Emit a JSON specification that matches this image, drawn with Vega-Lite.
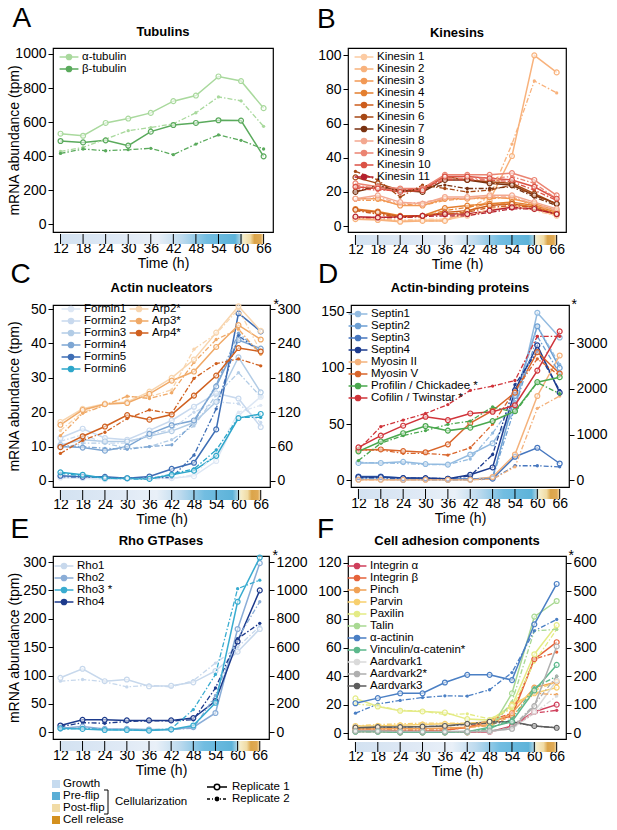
{
  "$schema": "https://vega.github.io/schema/vega-lite/v6.json",
  "background": "white",
  "padding": {"left": 6, "top": 5, "right": 2, "bottom": 0},
  "config": {
    "font": "Liberation Sans",
    "view": {"stroke": "black", "strokeWidth": 1.2},
    "axis": {"grid": false, "domain": false, "tickColor": "black", "tickSize": 5, "tickWidth": 1, "labelColor": "black", "labelFontSize": 14, "labelPadding": 2, "titleColor": "black", "titleFontSize": 14, "titleFontWeight": "normal"},
    "legend": {"orient": "none", "padding": 0, "symbolSize": 110, "symbolStrokeWidth": 1.5, "labelFontSize": 11.5, "labelColor": "black", "labelOffset": 7, "rowPadding": -1, "labelLimit": 300},
    "title": {"color": "black"}
  },
  "datasets": {
    "band": [{"a": 12, "b": 66}],
    "ticks": [{"t": 12}, {"t": 18}, {"t": 24}, {"t": 30}, {"t": 36}, {"t": 42}, {"t": 48}, {"t": 54}, {"t": 60}, {"t": 66}],
    "stages": [{"s": "Growth"}, {"s": "Pre-flip"}, {"s": "Post-flip"}, {"s": "Cell release"}],
    "reps": [{"rep": "Replicate 1"}, {"rep": "Replicate 2"}],
    "bracket": [{"label": "Cellularization"}],
    "A": [
      {"g":"α-tubulin","r":1,"t":12,"v":532},{"g":"α-tubulin","r":1,"t":18,"v":520},{"g":"α-tubulin","r":1,"t":24,"v":595},{"g":"α-tubulin","r":1,"t":30,"v":621},{"g":"α-tubulin","r":1,"t":36,"v":654},{"g":"α-tubulin","r":1,"t":42,"v":723},{"g":"α-tubulin","r":1,"t":48,"v":756},{"g":"α-tubulin","r":1,"t":54,"v":868},{"g":"α-tubulin","r":1,"t":60,"v":841},{"g":"α-tubulin","r":1,"t":66,"v":682},
      {"g":"α-tubulin","r":2,"t":12,"v":428},{"g":"α-tubulin","r":2,"t":18,"v":452},{"g":"α-tubulin","r":2,"t":24,"v":500},{"g":"α-tubulin","r":2,"t":30,"v":550},{"g":"α-tubulin","r":2,"t":36,"v":568},{"g":"α-tubulin","r":2,"t":42,"v":590},{"g":"α-tubulin","r":2,"t":48,"v":655},{"g":"α-tubulin","r":2,"t":54,"v":748},{"g":"α-tubulin","r":2,"t":60,"v":725},{"g":"α-tubulin","r":2,"t":66,"v":575},
      {"g":"β-tubulin","r":1,"t":12,"v":489},{"g":"β-tubulin","r":1,"t":18,"v":481},{"g":"β-tubulin","r":1,"t":24,"v":493},{"g":"β-tubulin","r":1,"t":30,"v":462},{"g":"β-tubulin","r":1,"t":36,"v":544},{"g":"β-tubulin","r":1,"t":42,"v":583},{"g":"β-tubulin","r":1,"t":48,"v":595},{"g":"β-tubulin","r":1,"t":54,"v":611},{"g":"β-tubulin","r":1,"t":60,"v":609},{"g":"β-tubulin","r":1,"t":66,"v":399},
      {"g":"β-tubulin","r":2,"t":12,"v":416},{"g":"β-tubulin","r":2,"t":18,"v":442},{"g":"β-tubulin","r":2,"t":24,"v":432},{"g":"β-tubulin","r":2,"t":30,"v":438},{"g":"β-tubulin","r":2,"t":36,"v":446},{"g":"β-tubulin","r":2,"t":42,"v":409},{"g":"β-tubulin","r":2,"t":48,"v":471},{"g":"β-tubulin","r":2,"t":54,"v":525},{"g":"β-tubulin","r":2,"t":60,"v":493},{"g":"β-tubulin","r":2,"t":66,"v":442}
    ],
    "B": [
      {"g":"Kinesin 1","r":1,"t":12,"v":5},{"g":"Kinesin 1","r":1,"t":18,"v":4},{"g":"Kinesin 1","r":1,"t":24,"v":3},{"g":"Kinesin 1","r":1,"t":30,"v":3.5},{"g":"Kinesin 1","r":1,"t":36,"v":3.5},{"g":"Kinesin 1","r":1,"t":42,"v":6},{"g":"Kinesin 1","r":1,"t":48,"v":9},{"g":"Kinesin 1","r":1,"t":54,"v":12},{"g":"Kinesin 1","r":1,"t":60,"v":10},{"g":"Kinesin 1","r":1,"t":66,"v":6},
      {"g":"Kinesin 1","r":2,"t":12,"v":5},{"g":"Kinesin 1","r":2,"t":18,"v":5},{"g":"Kinesin 1","r":2,"t":24,"v":3.5},{"g":"Kinesin 1","r":2,"t":30,"v":4},{"g":"Kinesin 1","r":2,"t":36,"v":4},{"g":"Kinesin 1","r":2,"t":42,"v":6},{"g":"Kinesin 1","r":2,"t":48,"v":10},{"g":"Kinesin 1","r":2,"t":54,"v":12},{"g":"Kinesin 1","r":2,"t":60,"v":9},{"g":"Kinesin 1","r":2,"t":66,"v":6},
      {"g":"Kinesin 2","r":1,"t":12,"v":4},{"g":"Kinesin 2","r":1,"t":18,"v":3.5},{"g":"Kinesin 2","r":1,"t":24,"v":2.5},{"g":"Kinesin 2","r":1,"t":30,"v":3},{"g":"Kinesin 2","r":1,"t":36,"v":3},{"g":"Kinesin 2","r":1,"t":42,"v":8},{"g":"Kinesin 2","r":1,"t":48,"v":15},{"g":"Kinesin 2","r":1,"t":54,"v":41},{"g":"Kinesin 2","r":1,"t":60,"v":100},{"g":"Kinesin 2","r":1,"t":66,"v":90},
      {"g":"Kinesin 2","r":2,"t":12,"v":4},{"g":"Kinesin 2","r":2,"t":18,"v":4},{"g":"Kinesin 2","r":2,"t":24,"v":3},{"g":"Kinesin 2","r":2,"t":30,"v":3},{"g":"Kinesin 2","r":2,"t":36,"v":3},{"g":"Kinesin 2","r":2,"t":42,"v":10},{"g":"Kinesin 2","r":2,"t":48,"v":17},{"g":"Kinesin 2","r":2,"t":54,"v":48},{"g":"Kinesin 2","r":2,"t":60,"v":85},{"g":"Kinesin 2","r":2,"t":66,"v":78},
      {"g":"Kinesin 3","r":1,"t":12,"v":16},{"g":"Kinesin 3","r":1,"t":18,"v":16},{"g":"Kinesin 3","r":1,"t":24,"v":12},{"g":"Kinesin 3","r":1,"t":30,"v":12},{"g":"Kinesin 3","r":1,"t":36,"v":16},{"g":"Kinesin 3","r":1,"t":42,"v":16},{"g":"Kinesin 3","r":1,"t":48,"v":17},{"g":"Kinesin 3","r":1,"t":54,"v":16},{"g":"Kinesin 3","r":1,"t":60,"v":13},{"g":"Kinesin 3","r":1,"t":66,"v":9},
      {"g":"Kinesin 3","r":2,"t":12,"v":15},{"g":"Kinesin 3","r":2,"t":18,"v":15},{"g":"Kinesin 3","r":2,"t":24,"v":13},{"g":"Kinesin 3","r":2,"t":30,"v":12},{"g":"Kinesin 3","r":2,"t":36,"v":15},{"g":"Kinesin 3","r":2,"t":42,"v":16},{"g":"Kinesin 3","r":2,"t":48,"v":16},{"g":"Kinesin 3","r":2,"t":54,"v":17},{"g":"Kinesin 3","r":2,"t":60,"v":12},{"g":"Kinesin 3","r":2,"t":66,"v":8},
      {"g":"Kinesin 4","r":1,"t":12,"v":10},{"g":"Kinesin 4","r":1,"t":18,"v":8.5},{"g":"Kinesin 4","r":1,"t":24,"v":6},{"g":"Kinesin 4","r":1,"t":30,"v":6},{"g":"Kinesin 4","r":1,"t":36,"v":10.5},{"g":"Kinesin 4","r":1,"t":42,"v":12},{"g":"Kinesin 4","r":1,"t":48,"v":13},{"g":"Kinesin 4","r":1,"t":54,"v":14},{"g":"Kinesin 4","r":1,"t":60,"v":12},{"g":"Kinesin 4","r":1,"t":66,"v":8},
      {"g":"Kinesin 4","r":2,"t":12,"v":10},{"g":"Kinesin 4","r":2,"t":18,"v":7},{"g":"Kinesin 4","r":2,"t":24,"v":5},{"g":"Kinesin 4","r":2,"t":30,"v":5.5},{"g":"Kinesin 4","r":2,"t":36,"v":9},{"g":"Kinesin 4","r":2,"t":42,"v":11},{"g":"Kinesin 4","r":2,"t":48,"v":13},{"g":"Kinesin 4","r":2,"t":54,"v":13},{"g":"Kinesin 4","r":2,"t":60,"v":11},{"g":"Kinesin 4","r":2,"t":66,"v":7},
      {"g":"Kinesin 5","r":1,"t":12,"v":9.5},{"g":"Kinesin 5","r":1,"t":18,"v":8},{"g":"Kinesin 5","r":1,"t":24,"v":5.5},{"g":"Kinesin 5","r":1,"t":30,"v":6},{"g":"Kinesin 5","r":1,"t":36,"v":8},{"g":"Kinesin 5","r":1,"t":42,"v":9},{"g":"Kinesin 5","r":1,"t":48,"v":12},{"g":"Kinesin 5","r":1,"t":54,"v":13},{"g":"Kinesin 5","r":1,"t":60,"v":11},{"g":"Kinesin 5","r":1,"t":66,"v":7},
      {"g":"Kinesin 5","r":2,"t":12,"v":9},{"g":"Kinesin 5","r":2,"t":18,"v":7},{"g":"Kinesin 5","r":2,"t":24,"v":5},{"g":"Kinesin 5","r":2,"t":30,"v":6},{"g":"Kinesin 5","r":2,"t":36,"v":7},{"g":"Kinesin 5","r":2,"t":42,"v":8},{"g":"Kinesin 5","r":2,"t":48,"v":11},{"g":"Kinesin 5","r":2,"t":54,"v":12},{"g":"Kinesin 5","r":2,"t":60,"v":11},{"g":"Kinesin 5","r":2,"t":66,"v":7},
      {"g":"Kinesin 6","r":1,"t":12,"v":28.5},{"g":"Kinesin 6","r":1,"t":18,"v":25},{"g":"Kinesin 6","r":1,"t":24,"v":21},{"g":"Kinesin 6","r":1,"t":30,"v":21},{"g":"Kinesin 6","r":1,"t":36,"v":29},{"g":"Kinesin 6","r":1,"t":42,"v":27},{"g":"Kinesin 6","r":1,"t":48,"v":26},{"g":"Kinesin 6","r":1,"t":54,"v":25},{"g":"Kinesin 6","r":1,"t":60,"v":19},{"g":"Kinesin 6","r":1,"t":66,"v":13},
      {"g":"Kinesin 6","r":2,"t":12,"v":32},{"g":"Kinesin 6","r":2,"t":18,"v":27},{"g":"Kinesin 6","r":2,"t":24,"v":17},{"g":"Kinesin 6","r":2,"t":30,"v":24},{"g":"Kinesin 6","r":2,"t":36,"v":22},{"g":"Kinesin 6","r":2,"t":42,"v":20},{"g":"Kinesin 6","r":2,"t":48,"v":21},{"g":"Kinesin 6","r":2,"t":54,"v":24},{"g":"Kinesin 6","r":2,"t":60,"v":18},{"g":"Kinesin 6","r":2,"t":66,"v":13},
      {"g":"Kinesin 7","r":1,"t":12,"v":20},{"g":"Kinesin 7","r":1,"t":18,"v":23},{"g":"Kinesin 7","r":1,"t":24,"v":21},{"g":"Kinesin 7","r":1,"t":30,"v":20},{"g":"Kinesin 7","r":1,"t":36,"v":27},{"g":"Kinesin 7","r":1,"t":42,"v":27},{"g":"Kinesin 7","r":1,"t":48,"v":25},{"g":"Kinesin 7","r":1,"t":54,"v":24},{"g":"Kinesin 7","r":1,"t":60,"v":18},{"g":"Kinesin 7","r":1,"t":66,"v":13},
      {"g":"Kinesin 7","r":2,"t":12,"v":20},{"g":"Kinesin 7","r":2,"t":18,"v":24},{"g":"Kinesin 7","r":2,"t":24,"v":20},{"g":"Kinesin 7","r":2,"t":30,"v":22},{"g":"Kinesin 7","r":2,"t":36,"v":24},{"g":"Kinesin 7","r":2,"t":42,"v":22},{"g":"Kinesin 7","r":2,"t":48,"v":22},{"g":"Kinesin 7","r":2,"t":54,"v":23},{"g":"Kinesin 7","r":2,"t":60,"v":17},{"g":"Kinesin 7","r":2,"t":66,"v":12},
      {"g":"Kinesin 8","r":1,"t":12,"v":16},{"g":"Kinesin 8","r":1,"t":18,"v":18},{"g":"Kinesin 8","r":1,"t":24,"v":14},{"g":"Kinesin 8","r":1,"t":30,"v":13},{"g":"Kinesin 8","r":1,"t":36,"v":17},{"g":"Kinesin 8","r":1,"t":42,"v":17},{"g":"Kinesin 8","r":1,"t":48,"v":18},{"g":"Kinesin 8","r":1,"t":54,"v":18},{"g":"Kinesin 8","r":1,"t":60,"v":14},{"g":"Kinesin 8","r":1,"t":66,"v":10},
      {"g":"Kinesin 8","r":2,"t":12,"v":15},{"g":"Kinesin 8","r":2,"t":18,"v":17},{"g":"Kinesin 8","r":2,"t":24,"v":13},{"g":"Kinesin 8","r":2,"t":30,"v":14},{"g":"Kinesin 8","r":2,"t":36,"v":16},{"g":"Kinesin 8","r":2,"t":42,"v":16},{"g":"Kinesin 8","r":2,"t":48,"v":17},{"g":"Kinesin 8","r":2,"t":54,"v":17},{"g":"Kinesin 8","r":2,"t":60,"v":13},{"g":"Kinesin 8","r":2,"t":66,"v":9},
      {"g":"Kinesin 9","r":1,"t":12,"v":25},{"g":"Kinesin 9","r":1,"t":18,"v":23},{"g":"Kinesin 9","r":1,"t":24,"v":22},{"g":"Kinesin 9","r":1,"t":30,"v":22},{"g":"Kinesin 9","r":1,"t":36,"v":30},{"g":"Kinesin 9","r":1,"t":42,"v":30},{"g":"Kinesin 9","r":1,"t":48,"v":30},{"g":"Kinesin 9","r":1,"t":54,"v":31},{"g":"Kinesin 9","r":1,"t":60,"v":27},{"g":"Kinesin 9","r":1,"t":66,"v":18},
      {"g":"Kinesin 9","r":2,"t":12,"v":24},{"g":"Kinesin 9","r":2,"t":18,"v":22},{"g":"Kinesin 9","r":2,"t":24,"v":21},{"g":"Kinesin 9","r":2,"t":30,"v":22},{"g":"Kinesin 9","r":2,"t":36,"v":28},{"g":"Kinesin 9","r":2,"t":42,"v":28},{"g":"Kinesin 9","r":2,"t":48,"v":28},{"g":"Kinesin 9","r":2,"t":54,"v":29},{"g":"Kinesin 9","r":2,"t":60,"v":25},{"g":"Kinesin 9","r":2,"t":66,"v":16},
      {"g":"Kinesin 10","r":1,"t":12,"v":23},{"g":"Kinesin 10","r":1,"t":18,"v":22},{"g":"Kinesin 10","r":1,"t":24,"v":20},{"g":"Kinesin 10","r":1,"t":30,"v":21},{"g":"Kinesin 10","r":1,"t":36,"v":29},{"g":"Kinesin 10","r":1,"t":42,"v":29},{"g":"Kinesin 10","r":1,"t":48,"v":28},{"g":"Kinesin 10","r":1,"t":54,"v":27},{"g":"Kinesin 10","r":1,"t":60,"v":23},{"g":"Kinesin 10","r":1,"t":66,"v":16},
      {"g":"Kinesin 10","r":2,"t":12,"v":22},{"g":"Kinesin 10","r":2,"t":18,"v":21},{"g":"Kinesin 10","r":2,"t":24,"v":21},{"g":"Kinesin 10","r":2,"t":30,"v":22},{"g":"Kinesin 10","r":2,"t":36,"v":27},{"g":"Kinesin 10","r":2,"t":42,"v":27},{"g":"Kinesin 10","r":2,"t":48,"v":27},{"g":"Kinesin 10","r":2,"t":54,"v":26},{"g":"Kinesin 10","r":2,"t":60,"v":21},{"g":"Kinesin 10","r":2,"t":66,"v":15},
      {"g":"Kinesin 11","r":1,"t":12,"v":5.5},{"g":"Kinesin 11","r":1,"t":18,"v":5},{"g":"Kinesin 11","r":1,"t":24,"v":5.5},{"g":"Kinesin 11","r":1,"t":30,"v":6},{"g":"Kinesin 11","r":1,"t":36,"v":7},{"g":"Kinesin 11","r":1,"t":42,"v":7},{"g":"Kinesin 11","r":1,"t":48,"v":9},{"g":"Kinesin 11","r":1,"t":54,"v":11},{"g":"Kinesin 11","r":1,"t":60,"v":10},{"g":"Kinesin 11","r":1,"t":66,"v":7},
      {"g":"Kinesin 11","r":2,"t":12,"v":5},{"g":"Kinesin 11","r":2,"t":18,"v":5},{"g":"Kinesin 11","r":2,"t":24,"v":5},{"g":"Kinesin 11","r":2,"t":30,"v":5.5},{"g":"Kinesin 11","r":2,"t":36,"v":6},{"g":"Kinesin 11","r":2,"t":42,"v":6},{"g":"Kinesin 11","r":2,"t":48,"v":8},{"g":"Kinesin 11","r":2,"t":54,"v":10},{"g":"Kinesin 11","r":2,"t":60,"v":10},{"g":"Kinesin 11","r":2,"t":66,"v":7}
    ],
    "Cl": [
      {"g":"Formin1","r":1,"t":12,"v":1},{"g":"Formin1","r":1,"t":18,"v":0.8},{"g":"Formin1","r":1,"t":24,"v":0.5},{"g":"Formin1","r":1,"t":30,"v":0.6},{"g":"Formin1","r":1,"t":36,"v":0.8},{"g":"Formin1","r":1,"t":42,"v":0.8},{"g":"Formin1","r":1,"t":48,"v":1.4},{"g":"Formin1","r":1,"t":54,"v":5.8},{"g":"Formin1","r":1,"t":60,"v":19},{"g":"Formin1","r":1,"t":66,"v":24.5},
      {"g":"Formin1","r":2,"t":12,"v":0.8},{"g":"Formin1","r":2,"t":18,"v":0.7},{"g":"Formin1","r":2,"t":24,"v":0.6},{"g":"Formin1","r":2,"t":30,"v":0.5},{"g":"Formin1","r":2,"t":36,"v":0.6},{"g":"Formin1","r":2,"t":42,"v":0.7},{"g":"Formin1","r":2,"t":48,"v":1.8},{"g":"Formin1","r":2,"t":54,"v":8},{"g":"Formin1","r":2,"t":60,"v":20},{"g":"Formin1","r":2,"t":66,"v":22},
      {"g":"Formin2","r":1,"t":12,"v":12.5},{"g":"Formin2","r":1,"t":18,"v":15.2},{"g":"Formin2","r":1,"t":24,"v":12.5},{"g":"Formin2","r":1,"t":30,"v":12},{"g":"Formin2","r":1,"t":36,"v":14.7},{"g":"Formin2","r":1,"t":42,"v":17.6},{"g":"Formin2","r":1,"t":48,"v":21.6},{"g":"Formin2","r":1,"t":54,"v":25.5},{"g":"Formin2","r":1,"t":60,"v":24},{"g":"Formin2","r":1,"t":66,"v":15.7},
      {"g":"Formin2","r":2,"t":12,"v":11.5},{"g":"Formin2","r":2,"t":18,"v":13.5},{"g":"Formin2","r":2,"t":24,"v":11},{"g":"Formin2","r":2,"t":30,"v":11},{"g":"Formin2","r":2,"t":36,"v":13.5},{"g":"Formin2","r":2,"t":42,"v":15},{"g":"Formin2","r":2,"t":48,"v":20},{"g":"Formin2","r":2,"t":54,"v":23},{"g":"Formin2","r":2,"t":60,"v":22.5},{"g":"Formin2","r":2,"t":66,"v":17},
      {"g":"Formin3","r":1,"t":12,"v":10.5},{"g":"Formin3","r":1,"t":18,"v":12},{"g":"Formin3","r":1,"t":24,"v":11.5},{"g":"Formin3","r":1,"t":30,"v":11.5},{"g":"Formin3","r":1,"t":36,"v":13},{"g":"Formin3","r":1,"t":42,"v":14.5},{"g":"Formin3","r":1,"t":48,"v":17},{"g":"Formin3","r":1,"t":54,"v":23},{"g":"Formin3","r":1,"t":60,"v":36},{"g":"Formin3","r":1,"t":66,"v":25.8},
      {"g":"Formin3","r":2,"t":12,"v":9.5},{"g":"Formin3","r":2,"t":18,"v":11},{"g":"Formin3","r":2,"t":24,"v":11},{"g":"Formin3","r":2,"t":30,"v":9.5},{"g":"Formin3","r":2,"t":36,"v":10},{"g":"Formin3","r":2,"t":42,"v":12},{"g":"Formin3","r":2,"t":48,"v":16},{"g":"Formin3","r":2,"t":54,"v":25},{"g":"Formin3","r":2,"t":60,"v":31.5},{"g":"Formin3","r":2,"t":66,"v":24.5},
      {"g":"Formin4","r":1,"t":12,"v":10},{"g":"Formin4","r":1,"t":18,"v":9.7},{"g":"Formin4","r":1,"t":24,"v":8.8},{"g":"Formin4","r":1,"t":30,"v":10},{"g":"Formin4","r":1,"t":36,"v":13.7},{"g":"Formin4","r":1,"t":42,"v":16.2},{"g":"Formin4","r":1,"t":48,"v":17.6},{"g":"Formin4","r":1,"t":54,"v":27.5},{"g":"Formin4","r":1,"t":60,"v":41},{"g":"Formin4","r":1,"t":66,"v":38.5},
      {"g":"Formin4","r":2,"t":12,"v":10.3},{"g":"Formin4","r":2,"t":18,"v":10},{"g":"Formin4","r":2,"t":24,"v":9.5},{"g":"Formin4","r":2,"t":30,"v":9.2},{"g":"Formin4","r":2,"t":36,"v":10},{"g":"Formin4","r":2,"t":42,"v":10.5},{"g":"Formin4","r":2,"t":48,"v":17},{"g":"Formin4","r":2,"t":54,"v":28},{"g":"Formin4","r":2,"t":60,"v":43},{"g":"Formin4","r":2,"t":66,"v":37.5},
      {"g":"Formin5","r":1,"t":12,"v":1.5},{"g":"Formin5","r":1,"t":18,"v":1.2},{"g":"Formin5","r":1,"t":24,"v":1.2},{"g":"Formin5","r":1,"t":30,"v":0.8},{"g":"Formin5","r":1,"t":36,"v":1.3},{"g":"Formin5","r":1,"t":42,"v":3.5},{"g":"Formin5","r":1,"t":48,"v":5.3},{"g":"Formin5","r":1,"t":54,"v":15},{"g":"Formin5","r":1,"t":60,"v":48.8},{"g":"Formin5","r":1,"t":66,"v":43.5},
      {"g":"Formin5","r":2,"t":12,"v":1.2},{"g":"Formin5","r":2,"t":18,"v":1.1},{"g":"Formin5","r":2,"t":24,"v":1},{"g":"Formin5","r":2,"t":30,"v":0.9},{"g":"Formin5","r":2,"t":36,"v":1},{"g":"Formin5","r":2,"t":42,"v":1},{"g":"Formin5","r":2,"t":48,"v":7.5},{"g":"Formin5","r":2,"t":54,"v":21},{"g":"Formin5","r":2,"t":60,"v":42.3},{"g":"Formin5","r":2,"t":66,"v":37.5},
      {"g":"Formin6","r":1,"t":12,"v":2.5},{"g":"Formin6","r":1,"t":18,"v":1.8},{"g":"Formin6","r":1,"t":24,"v":0.8},{"g":"Formin6","r":1,"t":30,"v":0.8},{"g":"Formin6","r":1,"t":36,"v":0.6},{"g":"Formin6","r":1,"t":42,"v":1.8},{"g":"Formin6","r":1,"t":48,"v":3},{"g":"Formin6","r":1,"t":54,"v":7.3},{"g":"Formin6","r":1,"t":60,"v":18.3},{"g":"Formin6","r":1,"t":66,"v":19.5},
      {"g":"Formin6","r":2,"t":12,"v":2.2},{"g":"Formin6","r":2,"t":18,"v":1.5},{"g":"Formin6","r":2,"t":24,"v":0.8},{"g":"Formin6","r":2,"t":30,"v":0.6},{"g":"Formin6","r":2,"t":36,"v":0.5},{"g":"Formin6","r":2,"t":42,"v":2},{"g":"Formin6","r":2,"t":48,"v":3.5},{"g":"Formin6","r":2,"t":54,"v":9},{"g":"Formin6","r":2,"t":60,"v":18.5},{"g":"Formin6","r":2,"t":66,"v":18.5}
    ],
    "Cr": [
      {"g":"Arp2*","r":1,"t":12,"v":103},{"g":"Arp2*","r":1,"t":18,"v":126},{"g":"Arp2*","r":1,"t":24,"v":135},{"g":"Arp2*","r":1,"t":30,"v":138},{"g":"Arp2*","r":1,"t":36,"v":156},{"g":"Arp2*","r":1,"t":42,"v":180},{"g":"Arp2*","r":1,"t":48,"v":212},{"g":"Arp2*","r":1,"t":54,"v":259},{"g":"Arp2*","r":1,"t":60,"v":305},{"g":"Arp2*","r":1,"t":66,"v":262},
      {"g":"Arp2*","r":2,"t":12,"v":88},{"g":"Arp2*","r":2,"t":18,"v":120},{"g":"Arp2*","r":2,"t":24,"v":132},{"g":"Arp2*","r":2,"t":30,"v":147},{"g":"Arp2*","r":2,"t":36,"v":147},{"g":"Arp2*","r":2,"t":42,"v":159},{"g":"Arp2*","r":2,"t":48,"v":230},{"g":"Arp2*","r":2,"t":54,"v":257},{"g":"Arp2*","r":2,"t":60,"v":300},{"g":"Arp2*","r":2,"t":66,"v":226},
      {"g":"Arp3*","r":1,"t":12,"v":98},{"g":"Arp3*","r":1,"t":18,"v":124},{"g":"Arp3*","r":1,"t":24,"v":134},{"g":"Arp3*","r":1,"t":30,"v":136},{"g":"Arp3*","r":1,"t":36,"v":152},{"g":"Arp3*","r":1,"t":42,"v":175},{"g":"Arp3*","r":1,"t":48,"v":191},{"g":"Arp3*","r":1,"t":54,"v":234},{"g":"Arp3*","r":1,"t":60,"v":272},{"g":"Arp3*","r":1,"t":66,"v":247},
      {"g":"Arp3*","r":2,"t":12,"v":79},{"g":"Arp3*","r":2,"t":18,"v":118},{"g":"Arp3*","r":2,"t":24,"v":132},{"g":"Arp3*","r":2,"t":30,"v":148},{"g":"Arp3*","r":2,"t":36,"v":144},{"g":"Arp3*","r":2,"t":42,"v":154},{"g":"Arp3*","r":2,"t":48,"v":207},{"g":"Arp3*","r":2,"t":54,"v":247},{"g":"Arp3*","r":2,"t":60,"v":265},{"g":"Arp3*","r":2,"t":66,"v":221},
      {"g":"Arp4*","r":1,"t":12,"v":59},{"g":"Arp4*","r":1,"t":18,"v":78},{"g":"Arp4*","r":1,"t":24,"v":95},{"g":"Arp4*","r":1,"t":30,"v":115},{"g":"Arp4*","r":1,"t":36,"v":107},{"g":"Arp4*","r":1,"t":42,"v":116},{"g":"Arp4*","r":1,"t":48,"v":149},{"g":"Arp4*","r":1,"t":54,"v":184},{"g":"Arp4*","r":1,"t":60,"v":232},{"g":"Arp4*","r":1,"t":66,"v":226},
      {"g":"Arp4*","r":2,"t":12,"v":48},{"g":"Arp4*","r":2,"t":18,"v":71},{"g":"Arp4*","r":2,"t":24,"v":85},{"g":"Arp4*","r":2,"t":30,"v":109},{"g":"Arp4*","r":2,"t":36,"v":124},{"g":"Arp4*","r":2,"t":42,"v":118},{"g":"Arp4*","r":2,"t":48,"v":179},{"g":"Arp4*","r":2,"t":54,"v":205},{"g":"Arp4*","r":2,"t":60,"v":213},{"g":"Arp4*","r":2,"t":66,"v":201}
    ],
    "Dl": [
      {"g":"Septin1","r":1,"t":12,"v":15.5},{"g":"Septin1","r":1,"t":18,"v":15.5},{"g":"Septin1","r":1,"t":24,"v":16.5},{"g":"Septin1","r":1,"t":30,"v":14.5},{"g":"Septin1","r":1,"t":36,"v":14},{"g":"Septin1","r":1,"t":42,"v":23},{"g":"Septin1","r":1,"t":48,"v":33},{"g":"Septin1","r":1,"t":54,"v":62},{"g":"Septin1","r":1,"t":60,"v":149},{"g":"Septin1","r":1,"t":66,"v":127},
      {"g":"Septin1","r":2,"t":12,"v":16},{"g":"Septin1","r":2,"t":18,"v":15.5},{"g":"Septin1","r":2,"t":24,"v":15},{"g":"Septin1","r":2,"t":30,"v":14},{"g":"Septin1","r":2,"t":36,"v":14},{"g":"Septin1","r":2,"t":42,"v":19},{"g":"Septin1","r":2,"t":48,"v":42},{"g":"Septin1","r":2,"t":54,"v":70},{"g":"Septin1","r":2,"t":60,"v":137},{"g":"Septin1","r":2,"t":66,"v":103},
      {"g":"Septin2","r":1,"t":12,"v":1},{"g":"Septin2","r":1,"t":18,"v":1},{"g":"Septin2","r":1,"t":24,"v":0.5},{"g":"Septin2","r":1,"t":30,"v":1},{"g":"Septin2","r":1,"t":36,"v":0.5},{"g":"Septin2","r":1,"t":42,"v":1},{"g":"Septin2","r":1,"t":48,"v":2.5},{"g":"Septin2","r":1,"t":54,"v":75},{"g":"Septin2","r":1,"t":60,"v":137},{"g":"Septin2","r":1,"t":66,"v":100},
      {"g":"Septin2","r":2,"t":12,"v":1},{"g":"Septin2","r":2,"t":18,"v":1},{"g":"Septin2","r":2,"t":24,"v":1},{"g":"Septin2","r":2,"t":30,"v":0.5},{"g":"Septin2","r":2,"t":36,"v":0.5},{"g":"Septin2","r":2,"t":42,"v":0.5},{"g":"Septin2","r":2,"t":48,"v":2},{"g":"Septin2","r":2,"t":54,"v":65},{"g":"Septin2","r":2,"t":60,"v":128},{"g":"Septin2","r":2,"t":66,"v":95},
      {"g":"Septin3","r":1,"t":12,"v":3.5},{"g":"Septin3","r":1,"t":18,"v":3.5},{"g":"Septin3","r":1,"t":24,"v":2},{"g":"Septin3","r":1,"t":30,"v":1.5},{"g":"Septin3","r":1,"t":36,"v":1.5},{"g":"Septin3","r":1,"t":42,"v":1},{"g":"Septin3","r":1,"t":48,"v":1.5},{"g":"Septin3","r":1,"t":54,"v":21},{"g":"Septin3","r":1,"t":60,"v":29},{"g":"Septin3","r":1,"t":66,"v":15},
      {"g":"Septin3","r":2,"t":12,"v":2.5},{"g":"Septin3","r":2,"t":18,"v":2.5},{"g":"Septin3","r":2,"t":24,"v":1.5},{"g":"Septin3","r":2,"t":30,"v":1},{"g":"Septin3","r":2,"t":36,"v":1},{"g":"Septin3","r":2,"t":42,"v":1},{"g":"Septin3","r":2,"t":48,"v":1},{"g":"Septin3","r":2,"t":54,"v":13},{"g":"Septin3","r":2,"t":60,"v":13},{"g":"Septin3","r":2,"t":66,"v":12},
      {"g":"Septin4","r":1,"t":12,"v":3},{"g":"Septin4","r":1,"t":18,"v":3},{"g":"Septin4","r":1,"t":24,"v":2},{"g":"Septin4","r":1,"t":30,"v":2},{"g":"Septin4","r":1,"t":36,"v":1.5},{"g":"Septin4","r":1,"t":42,"v":5},{"g":"Septin4","r":1,"t":48,"v":11.5},{"g":"Septin4","r":1,"t":54,"v":80},{"g":"Septin4","r":1,"t":60,"v":120},{"g":"Septin4","r":1,"t":66,"v":78},
      {"g":"Septin4","r":2,"t":12,"v":2.5},{"g":"Septin4","r":2,"t":18,"v":2.5},{"g":"Septin4","r":2,"t":24,"v":2},{"g":"Septin4","r":2,"t":30,"v":2},{"g":"Septin4","r":2,"t":36,"v":1.5},{"g":"Septin4","r":2,"t":42,"v":4},{"g":"Septin4","r":2,"t":48,"v":23},{"g":"Septin4","r":2,"t":54,"v":85},{"g":"Septin4","r":2,"t":60,"v":115},{"g":"Septin4","r":2,"t":66,"v":80},
      {"g":"Myosin II","r":1,"t":12,"v":0.5},{"g":"Myosin II","r":1,"t":18,"v":0.5},{"g":"Myosin II","r":1,"t":24,"v":0.5},{"g":"Myosin II","r":1,"t":30,"v":0.5},{"g":"Myosin II","r":1,"t":36,"v":0.5},{"g":"Myosin II","r":1,"t":42,"v":0.5},{"g":"Myosin II","r":1,"t":48,"v":3},{"g":"Myosin II","r":1,"t":54,"v":23},{"g":"Myosin II","r":1,"t":60,"v":75},{"g":"Myosin II","r":1,"t":66,"v":111},
      {"g":"Myosin II","r":2,"t":12,"v":0.5},{"g":"Myosin II","r":2,"t":18,"v":0.5},{"g":"Myosin II","r":2,"t":24,"v":0.5},{"g":"Myosin II","r":2,"t":30,"v":0.5},{"g":"Myosin II","r":2,"t":36,"v":0.5},{"g":"Myosin II","r":2,"t":42,"v":0.5},{"g":"Myosin II","r":2,"t":48,"v":1},{"g":"Myosin II","r":2,"t":54,"v":12},{"g":"Myosin II","r":2,"t":60,"v":64},{"g":"Myosin II","r":2,"t":66,"v":75},
      {"g":"Myosin V","r":1,"t":12,"v":27},{"g":"Myosin V","r":1,"t":18,"v":27.5},{"g":"Myosin V","r":1,"t":24,"v":26},{"g":"Myosin V","r":1,"t":30,"v":25},{"g":"Myosin V","r":1,"t":36,"v":32},{"g":"Myosin V","r":1,"t":42,"v":51},{"g":"Myosin V","r":1,"t":48,"v":62},{"g":"Myosin V","r":1,"t":54,"v":78},{"g":"Myosin V","r":1,"t":60,"v":114},{"g":"Myosin V","r":1,"t":66,"v":95},
      {"g":"Myosin V","r":2,"t":12,"v":27},{"g":"Myosin V","r":2,"t":18,"v":27},{"g":"Myosin V","r":2,"t":24,"v":24},{"g":"Myosin V","r":2,"t":30,"v":24},{"g":"Myosin V","r":2,"t":36,"v":22.5},{"g":"Myosin V","r":2,"t":42,"v":29},{"g":"Myosin V","r":2,"t":48,"v":50},{"g":"Myosin V","r":2,"t":54,"v":80},{"g":"Myosin V","r":2,"t":60,"v":108},{"g":"Myosin V","r":2,"t":66,"v":93}
    ],
    "Dr": [
      {"g":"Profilin / Chickadee *","r":1,"t":12,"v":635},{"g":"Profilin / Chickadee *","r":1,"t":18,"v":851},{"g":"Profilin / Chickadee *","r":1,"t":24,"v":1031},{"g":"Profilin / Chickadee *","r":1,"t":30,"v":1189},{"g":"Profilin / Chickadee *","r":1,"t":36,"v":1088},{"g":"Profilin / Chickadee *","r":1,"t":42,"v":1153},{"g":"Profilin / Chickadee *","r":1,"t":48,"v":1297},{"g":"Profilin / Chickadee *","r":1,"t":54,"v":1513},{"g":"Profilin / Chickadee *","r":1,"t":60,"v":2148},{"g":"Profilin / Chickadee *","r":1,"t":66,"v":2256},
      {"g":"Profilin / Chickadee *","r":2,"t":12,"v":433},{"g":"Profilin / Chickadee *","r":2,"t":18,"v":813},{"g":"Profilin / Chickadee *","r":2,"t":24,"v":980},{"g":"Profilin / Chickadee *","r":2,"t":30,"v":1088},{"g":"Profilin / Chickadee *","r":2,"t":36,"v":1225},{"g":"Profilin / Chickadee *","r":2,"t":42,"v":1297},{"g":"Profilin / Chickadee *","r":2,"t":48,"v":1607},{"g":"Profilin / Chickadee *","r":2,"t":54,"v":1485},{"g":"Profilin / Chickadee *","r":2,"t":60,"v":2140},{"g":"Profilin / Chickadee *","r":2,"t":66,"v":1895},
      {"g":"Cofilin / Twinstar *","r":1,"t":12,"v":721},{"g":"Cofilin / Twinstar *","r":1,"t":18,"v":980},{"g":"Cofilin / Twinstar *","r":1,"t":24,"v":1196},{"g":"Cofilin / Twinstar *","r":1,"t":30,"v":1391},{"g":"Cofilin / Twinstar *","r":1,"t":36,"v":1319},{"g":"Cofilin / Twinstar *","r":1,"t":42,"v":1463},{"g":"Cofilin / Twinstar *","r":1,"t":48,"v":1500},{"g":"Cofilin / Twinstar *","r":1,"t":54,"v":1643},{"g":"Cofilin / Twinstar *","r":1,"t":60,"v":2400},{"g":"Cofilin / Twinstar *","r":1,"t":66,"v":3258},
      {"g":"Cofilin / Twinstar *","r":2,"t":12,"v":670},{"g":"Cofilin / Twinstar *","r":2,"t":18,"v":1175},{"g":"Cofilin / Twinstar *","r":2,"t":24,"v":1319},{"g":"Cofilin / Twinstar *","r":2,"t":30,"v":1463},{"g":"Cofilin / Twinstar *","r":2,"t":36,"v":1658},{"g":"Cofilin / Twinstar *","r":2,"t":42,"v":1968},{"g":"Cofilin / Twinstar *","r":2,"t":48,"v":2062},{"g":"Cofilin / Twinstar *","r":2,"t":54,"v":2184},{"g":"Cofilin / Twinstar *","r":2,"t":60,"v":3150},{"g":"Cofilin / Twinstar *","r":2,"t":66,"v":3150}
    ],
    "El": [
      {"g":"Rho1","r":1,"t":12,"v":96},{"g":"Rho1","r":1,"t":18,"v":112},{"g":"Rho1","r":1,"t":24,"v":90},{"g":"Rho1","r":1,"t":30,"v":93},{"g":"Rho1","r":1,"t":36,"v":81},{"g":"Rho1","r":1,"t":42,"v":82},{"g":"Rho1","r":1,"t":48,"v":88},{"g":"Rho1","r":1,"t":54,"v":108},{"g":"Rho1","r":1,"t":60,"v":142},{"g":"Rho1","r":1,"t":66,"v":182},
      {"g":"Rho1","r":2,"t":12,"v":90},{"g":"Rho1","r":2,"t":18,"v":93},{"g":"Rho1","r":2,"t":24,"v":89},{"g":"Rho1","r":2,"t":30,"v":80},{"g":"Rho1","r":2,"t":36,"v":83},{"g":"Rho1","r":2,"t":42,"v":80},{"g":"Rho1","r":2,"t":48,"v":91},{"g":"Rho1","r":2,"t":54,"v":122},{"g":"Rho1","r":2,"t":60,"v":150},{"g":"Rho1","r":2,"t":66,"v":187},
      {"g":"Rho2","r":1,"t":12,"v":7},{"g":"Rho2","r":1,"t":18,"v":10},{"g":"Rho2","r":1,"t":24,"v":6},{"g":"Rho2","r":1,"t":30,"v":6},{"g":"Rho2","r":1,"t":36,"v":5},{"g":"Rho2","r":1,"t":42,"v":5},{"g":"Rho2","r":1,"t":48,"v":9},{"g":"Rho2","r":1,"t":54,"v":34},{"g":"Rho2","r":1,"t":60,"v":182},{"g":"Rho2","r":1,"t":66,"v":298},
      {"g":"Rho2","r":2,"t":12,"v":6},{"g":"Rho2","r":2,"t":18,"v":8},{"g":"Rho2","r":2,"t":24,"v":5},{"g":"Rho2","r":2,"t":30,"v":5},{"g":"Rho2","r":2,"t":36,"v":4},{"g":"Rho2","r":2,"t":42,"v":5},{"g":"Rho2","r":2,"t":48,"v":7},{"g":"Rho2","r":2,"t":54,"v":65},{"g":"Rho2","r":2,"t":60,"v":165},{"g":"Rho2","r":2,"t":66,"v":230},
      {"g":"Rho4","r":1,"t":12,"v":12},{"g":"Rho4","r":1,"t":18,"v":22},{"g":"Rho4","r":1,"t":24,"v":22},{"g":"Rho4","r":1,"t":30,"v":21},{"g":"Rho4","r":1,"t":36,"v":21},{"g":"Rho4","r":1,"t":42,"v":21},{"g":"Rho4","r":1,"t":48,"v":25},{"g":"Rho4","r":1,"t":54,"v":55},{"g":"Rho4","r":1,"t":60,"v":160},{"g":"Rho4","r":1,"t":66,"v":250},
      {"g":"Rho4","r":2,"t":12,"v":10},{"g":"Rho4","r":2,"t":18,"v":17},{"g":"Rho4","r":2,"t":24,"v":16},{"g":"Rho4","r":2,"t":30,"v":19},{"g":"Rho4","r":2,"t":36,"v":20},{"g":"Rho4","r":2,"t":42,"v":20},{"g":"Rho4","r":2,"t":48,"v":22},{"g":"Rho4","r":2,"t":54,"v":78},{"g":"Rho4","r":2,"t":60,"v":165},{"g":"Rho4","r":2,"t":66,"v":192}
    ],
    "Er": [
      {"g":"Rho3 *","r":1,"t":12,"v":28},{"g":"Rho3 *","r":1,"t":18,"v":24},{"g":"Rho3 *","r":1,"t":24,"v":16},{"g":"Rho3 *","r":1,"t":30,"v":16},{"g":"Rho3 *","r":1,"t":36,"v":12},{"g":"Rho3 *","r":1,"t":42,"v":20},{"g":"Rho3 *","r":1,"t":48,"v":48},{"g":"Rho3 *","r":1,"t":54,"v":208},{"g":"Rho3 *","r":1,"t":60,"v":920},{"g":"Rho3 *","r":1,"t":66,"v":1232},
      {"g":"Rho3 *","r":2,"t":12,"v":20},{"g":"Rho3 *","r":2,"t":18,"v":28},{"g":"Rho3 *","r":2,"t":24,"v":20},{"g":"Rho3 *","r":2,"t":30,"v":16},{"g":"Rho3 *","r":2,"t":36,"v":16},{"g":"Rho3 *","r":2,"t":42,"v":24},{"g":"Rho3 *","r":2,"t":48,"v":160},{"g":"Rho3 *","r":2,"t":54,"v":408},{"g":"Rho3 *","r":2,"t":60,"v":1012},{"g":"Rho3 *","r":2,"t":66,"v":1072}
    ],
    "Fl": [
      {"g":"Integrin α","r":1,"t":12,"v":1},{"g":"Integrin α","r":1,"t":18,"v":1},{"g":"Integrin α","r":1,"t":24,"v":0.5},{"g":"Integrin α","r":1,"t":30,"v":0.5},{"g":"Integrin α","r":1,"t":36,"v":0.5},{"g":"Integrin α","r":1,"t":42,"v":0.5},{"g":"Integrin α","r":1,"t":48,"v":0.8},{"g":"Integrin α","r":1,"t":54,"v":5},{"g":"Integrin α","r":1,"t":60,"v":15},{"g":"Integrin α","r":1,"t":66,"v":20},
      {"g":"Integrin α","r":2,"t":12,"v":1},{"g":"Integrin α","r":2,"t":18,"v":1},{"g":"Integrin α","r":2,"t":24,"v":0.5},{"g":"Integrin α","r":2,"t":30,"v":0.5},{"g":"Integrin α","r":2,"t":36,"v":0.5},{"g":"Integrin α","r":2,"t":42,"v":0.5},{"g":"Integrin α","r":2,"t":48,"v":0.8},{"g":"Integrin α","r":2,"t":54,"v":4},{"g":"Integrin α","r":2,"t":60,"v":14},{"g":"Integrin α","r":2,"t":66,"v":16},
      {"g":"Integrin β","r":1,"t":12,"v":2},{"g":"Integrin β","r":1,"t":18,"v":2},{"g":"Integrin β","r":1,"t":24,"v":1.5},{"g":"Integrin β","r":1,"t":30,"v":1.5},{"g":"Integrin β","r":1,"t":36,"v":2},{"g":"Integrin β","r":1,"t":42,"v":4},{"g":"Integrin β","r":1,"t":48,"v":8},{"g":"Integrin β","r":1,"t":54,"v":12},{"g":"Integrin β","r":1,"t":60,"v":52},{"g":"Integrin β","r":1,"t":66,"v":64},
      {"g":"Integrin β","r":2,"t":12,"v":2},{"g":"Integrin β","r":2,"t":18,"v":2},{"g":"Integrin β","r":2,"t":24,"v":2},{"g":"Integrin β","r":2,"t":30,"v":2},{"g":"Integrin β","r":2,"t":36,"v":2},{"g":"Integrin β","r":2,"t":42,"v":4},{"g":"Integrin β","r":2,"t":48,"v":9},{"g":"Integrin β","r":2,"t":54,"v":14},{"g":"Integrin β","r":2,"t":60,"v":52},{"g":"Integrin β","r":2,"t":66,"v":57},
      {"g":"Pinch","r":1,"t":12,"v":3},{"g":"Pinch","r":1,"t":18,"v":3},{"g":"Pinch","r":1,"t":24,"v":3},{"g":"Pinch","r":1,"t":30,"v":3},{"g":"Pinch","r":1,"t":36,"v":3.5},{"g":"Pinch","r":1,"t":42,"v":4},{"g":"Pinch","r":1,"t":48,"v":6},{"g":"Pinch","r":1,"t":54,"v":14},{"g":"Pinch","r":1,"t":60,"v":32},{"g":"Pinch","r":1,"t":66,"v":36},
      {"g":"Pinch","r":2,"t":12,"v":3},{"g":"Pinch","r":2,"t":18,"v":3},{"g":"Pinch","r":2,"t":24,"v":3},{"g":"Pinch","r":2,"t":30,"v":3},{"g":"Pinch","r":2,"t":36,"v":3},{"g":"Pinch","r":2,"t":42,"v":4},{"g":"Pinch","r":2,"t":48,"v":5},{"g":"Pinch","r":2,"t":54,"v":12},{"g":"Pinch","r":2,"t":60,"v":28},{"g":"Pinch","r":2,"t":66,"v":27},
      {"g":"Parvin","r":1,"t":12,"v":5},{"g":"Parvin","r":1,"t":18,"v":5},{"g":"Parvin","r":1,"t":24,"v":5.5},{"g":"Parvin","r":1,"t":30,"v":6},{"g":"Parvin","r":1,"t":36,"v":6.5},{"g":"Parvin","r":1,"t":42,"v":6.5},{"g":"Parvin","r":1,"t":48,"v":7},{"g":"Parvin","r":1,"t":54,"v":20},{"g":"Parvin","r":1,"t":60,"v":28},{"g":"Parvin","r":1,"t":66,"v":32},
      {"g":"Parvin","r":2,"t":12,"v":5},{"g":"Parvin","r":2,"t":18,"v":6},{"g":"Parvin","r":2,"t":24,"v":6.5},{"g":"Parvin","r":2,"t":30,"v":7},{"g":"Parvin","r":2,"t":36,"v":7},{"g":"Parvin","r":2,"t":42,"v":7},{"g":"Parvin","r":2,"t":48,"v":8},{"g":"Parvin","r":2,"t":54,"v":18},{"g":"Parvin","r":2,"t":60,"v":30},{"g":"Parvin","r":2,"t":66,"v":36},
      {"g":"Paxilin","r":1,"t":12,"v":24.4},{"g":"Paxilin","r":1,"t":18,"v":18.7},{"g":"Paxilin","r":1,"t":24,"v":15.7},{"g":"Paxilin","r":1,"t":30,"v":15.2},{"g":"Paxilin","r":1,"t":36,"v":14.5},{"g":"Paxilin","r":1,"t":42,"v":9.8},{"g":"Paxilin","r":1,"t":48,"v":9.1},{"g":"Paxilin","r":1,"t":54,"v":19.2},{"g":"Paxilin","r":1,"t":60,"v":55.5},{"g":"Paxilin","r":1,"t":66,"v":76},
      {"g":"Paxilin","r":2,"t":12,"v":20.5},{"g":"Paxilin","r":2,"t":18,"v":19},{"g":"Paxilin","r":2,"t":24,"v":16},{"g":"Paxilin","r":2,"t":30,"v":15.5},{"g":"Paxilin","r":2,"t":36,"v":13},{"g":"Paxilin","r":2,"t":42,"v":13.5},{"g":"Paxilin","r":2,"t":48,"v":10},{"g":"Paxilin","r":2,"t":54,"v":17},{"g":"Paxilin","r":2,"t":60,"v":50},{"g":"Paxilin","r":2,"t":66,"v":73},
      {"g":"Talin","r":1,"t":12,"v":1},{"g":"Talin","r":1,"t":18,"v":1},{"g":"Talin","r":1,"t":24,"v":0.5},{"g":"Talin","r":1,"t":30,"v":0.5},{"g":"Talin","r":1,"t":36,"v":0.5},{"g":"Talin","r":1,"t":42,"v":0.5},{"g":"Talin","r":1,"t":48,"v":1.5},{"g":"Talin","r":1,"t":54,"v":28},{"g":"Talin","r":1,"t":60,"v":82},{"g":"Talin","r":1,"t":66,"v":93},
      {"g":"Talin","r":2,"t":12,"v":1},{"g":"Talin","r":2,"t":18,"v":1},{"g":"Talin","r":2,"t":24,"v":0.5},{"g":"Talin","r":2,"t":30,"v":0.5},{"g":"Talin","r":2,"t":36,"v":0.5},{"g":"Talin","r":2,"t":42,"v":1},{"g":"Talin","r":2,"t":48,"v":2},{"g":"Talin","r":2,"t":54,"v":22},{"g":"Talin","r":2,"t":60,"v":72},{"g":"Talin","r":2,"t":66,"v":73},
      {"g":"α-actinin","r":1,"t":12,"v":21},{"g":"α-actinin","r":1,"t":18,"v":24.6},{"g":"α-actinin","r":1,"t":24,"v":28},{"g":"α-actinin","r":1,"t":30,"v":28},{"g":"α-actinin","r":1,"t":36,"v":35.6},{"g":"α-actinin","r":1,"t":42,"v":41},{"g":"α-actinin","r":1,"t":48,"v":41},{"g":"α-actinin","r":1,"t":54,"v":37.3},{"g":"α-actinin","r":1,"t":60,"v":76.6},{"g":"α-actinin","r":1,"t":66,"v":105},
      {"g":"α-actinin","r":2,"t":12,"v":14},{"g":"α-actinin","r":2,"t":18,"v":20.4},{"g":"α-actinin","r":2,"t":24,"v":23},{"g":"α-actinin","r":2,"t":30,"v":25},{"g":"α-actinin","r":2,"t":36,"v":26.2},{"g":"α-actinin","r":2,"t":42,"v":26},{"g":"α-actinin","r":2,"t":48,"v":30.5},{"g":"α-actinin","r":2,"t":54,"v":42.6},{"g":"α-actinin","r":2,"t":60,"v":72},{"g":"α-actinin","r":2,"t":66,"v":80},
      {"g":"Aardvark1","r":1,"t":12,"v":1},{"g":"Aardvark1","r":1,"t":18,"v":1},{"g":"Aardvark1","r":1,"t":24,"v":1},{"g":"Aardvark1","r":1,"t":30,"v":1},{"g":"Aardvark1","r":1,"t":36,"v":1},{"g":"Aardvark1","r":1,"t":42,"v":1},{"g":"Aardvark1","r":1,"t":48,"v":1},{"g":"Aardvark1","r":1,"t":54,"v":3},{"g":"Aardvark1","r":1,"t":60,"v":15},{"g":"Aardvark1","r":1,"t":66,"v":37},
      {"g":"Aardvark1","r":2,"t":12,"v":1},{"g":"Aardvark1","r":2,"t":18,"v":1},{"g":"Aardvark1","r":2,"t":24,"v":1},{"g":"Aardvark1","r":2,"t":30,"v":1},{"g":"Aardvark1","r":2,"t":36,"v":1},{"g":"Aardvark1","r":2,"t":42,"v":1},{"g":"Aardvark1","r":2,"t":48,"v":1},{"g":"Aardvark1","r":2,"t":54,"v":3},{"g":"Aardvark1","r":2,"t":60,"v":14},{"g":"Aardvark1","r":2,"t":66,"v":26},
      {"g":"Aardvark3","r":1,"t":12,"v":3.8},{"g":"Aardvark3","r":1,"t":18,"v":4.2},{"g":"Aardvark3","r":1,"t":24,"v":4.2},{"g":"Aardvark3","r":1,"t":30,"v":4.5},{"g":"Aardvark3","r":1,"t":36,"v":5},{"g":"Aardvark3","r":1,"t":42,"v":6.5},{"g":"Aardvark3","r":1,"t":48,"v":8},{"g":"Aardvark3","r":1,"t":54,"v":8},{"g":"Aardvark3","r":1,"t":60,"v":5},{"g":"Aardvark3","r":1,"t":66,"v":3.7},
      {"g":"Aardvark3","r":2,"t":12,"v":3.5},{"g":"Aardvark3","r":2,"t":18,"v":4},{"g":"Aardvark3","r":2,"t":24,"v":4},{"g":"Aardvark3","r":2,"t":30,"v":4.5},{"g":"Aardvark3","r":2,"t":36,"v":5},{"g":"Aardvark3","r":2,"t":42,"v":6},{"g":"Aardvark3","r":2,"t":48,"v":7},{"g":"Aardvark3","r":2,"t":54,"v":7.5},{"g":"Aardvark3","r":2,"t":60,"v":5},{"g":"Aardvark3","r":2,"t":66,"v":3.7}
    ],
    "Fr": [
      {"g":"Vinculin/α-catenin*","r":1,"t":12,"v":5},{"g":"Vinculin/α-catenin*","r":1,"t":18,"v":5},{"g":"Vinculin/α-catenin*","r":1,"t":24,"v":2.5},{"g":"Vinculin/α-catenin*","r":1,"t":30,"v":2.5},{"g":"Vinculin/α-catenin*","r":1,"t":36,"v":2.5},{"g":"Vinculin/α-catenin*","r":1,"t":42,"v":5},{"g":"Vinculin/α-catenin*","r":1,"t":48,"v":20},{"g":"Vinculin/α-catenin*","r":1,"t":54,"v":40},{"g":"Vinculin/α-catenin*","r":1,"t":60,"v":150},{"g":"Vinculin/α-catenin*","r":1,"t":66,"v":240},
      {"g":"Vinculin/α-catenin*","r":2,"t":12,"v":5},{"g":"Vinculin/α-catenin*","r":2,"t":18,"v":5},{"g":"Vinculin/α-catenin*","r":2,"t":24,"v":5},{"g":"Vinculin/α-catenin*","r":2,"t":30,"v":2.5},{"g":"Vinculin/α-catenin*","r":2,"t":36,"v":2.5},{"g":"Vinculin/α-catenin*","r":2,"t":42,"v":5},{"g":"Vinculin/α-catenin*","r":2,"t":48,"v":15},{"g":"Vinculin/α-catenin*","r":2,"t":54,"v":50},{"g":"Vinculin/α-catenin*","r":2,"t":60,"v":160},{"g":"Vinculin/α-catenin*","r":2,"t":66,"v":200},
      {"g":"Aardvark2*","r":1,"t":12,"v":7.5},{"g":"Aardvark2*","r":1,"t":18,"v":7.5},{"g":"Aardvark2*","r":1,"t":24,"v":5},{"g":"Aardvark2*","r":1,"t":30,"v":5},{"g":"Aardvark2*","r":1,"t":36,"v":5},{"g":"Aardvark2*","r":1,"t":42,"v":5},{"g":"Aardvark2*","r":1,"t":48,"v":7.5},{"g":"Aardvark2*","r":1,"t":54,"v":15},{"g":"Aardvark2*","r":1,"t":60,"v":95},{"g":"Aardvark2*","r":1,"t":66,"v":305},
      {"g":"Aardvark2*","r":2,"t":12,"v":7.5},{"g":"Aardvark2*","r":2,"t":18,"v":7.5},{"g":"Aardvark2*","r":2,"t":24,"v":5},{"g":"Aardvark2*","r":2,"t":30,"v":5},{"g":"Aardvark2*","r":2,"t":36,"v":5},{"g":"Aardvark2*","r":2,"t":42,"v":5},{"g":"Aardvark2*","r":2,"t":48,"v":7.5},{"g":"Aardvark2*","r":2,"t":54,"v":20},{"g":"Aardvark2*","r":2,"t":60,"v":100},{"g":"Aardvark2*","r":2,"t":66,"v":200}
    ]
  },
  "spacing": -10,
  "resolve": {"scale": {"color": "independent", "stroke": "independent", "fill": "independent", "strokeDash": "independent"}, "legend": {"color": "independent", "stroke": "independent", "fill": "independent", "strokeDash": "independent"}},
  "vconcat": [
    {
      "spacing": 43,
      "resolve": {"scale": {"color": "independent", "stroke": "independent", "fill": "independent"}, "legend": {"color": "independent", "stroke": "independent", "fill": "independent"}},
      "hconcat": [
        {
          "title": {"text": "A", "anchor": "start", "frame": "bounds", "fontSize": 28, "fontWeight": "normal", "offset": -8, "dx": 6},
          "spacing": 0,
          "vconcat": [
            {
              "width": 220, "height": 184,
              "title": {"text": "Tubulins", "fontSize": 13, "fontWeight": "bold", "offset": 8},
              "data": {"name": "A"},
              "encoding": {
                "x": {"field": "t", "type": "quantitative", "scale": {"domain": [10, 68.5], "nice": false, "zero": false}, "axis": null},
                "y": {"field": "v", "type": "quantitative", "scale": {"domain": [-45, 1035], "nice": false, "zero": false}, "axis": {"values": [0, 200, 400, 600, 800, 1000], "format": "d", "title": "mRNA abundance (tpm)", "minExtent": 30, "maxExtent": 30, "titlePadding": 2}},
                "color": {"field": "g", "type": "nominal", "title": null, "scale": {"domain": ["α-tubulin", "β-tubulin"], "range": ["#a9d99d", "#5aaa5c"]}, "legend": {"legendX": 10, "legendY": 3, "symbolType": "M-1.8,0H-0.5M0.5,0H1.8M-0.5,0A0.5,0.5 0 1 0 0.5,0A0.5,0.5 0 1 0 -0.5,0Z", "symbolSize": 110}}
              },
              "layer": [
                {"transform": [{"filter": "datum.r==1"}], "mark": {"type": "line", "strokeWidth": 1.5}},
                {"transform": [{"filter": "datum.r==2"}], "mark": {"type": "line", "strokeWidth": 1.3, "strokeDash": [5, 2, 1.5, 2]}},
                {"transform": [{"filter": "datum.r==2"}], "mark": {"type": "circle", "size": 11, "opacity": 1}},
                {"transform": [{"filter": "datum.r==1"}], "mark": {"type": "point", "filled": false, "fill": "white", "fillOpacity": 0.55, "size": 24, "strokeWidth": 1.2, "opacity": 1}}
              ]
            },
            {
              "width": 220, "height": 10,
              "view": {"stroke": null},
              "encoding": {"x": {"field": "t", "type": "quantitative", "scale": {"domain": [10, 68.5], "nice": false, "zero": false}, "axis": {"orient": "bottom", "values": [12, 18, 24, 30, 36, 42, 48, 54, 60, 66], "ticks": false, "labelPadding": -3, "title": "Time (h)", "titlePadding": 1}}},
              "layer": [
                {"data": {"name": "band"}, "mark": {"type": "rect", "color": {"gradient": "linear", "x1": 0, "y1": 0, "x2": 1, "y2": 0, "stops": [{"offset": 0, "color": "#d3e2f1"}, {"offset": 0.3, "color": "#dfe9f5"}, {"offset": 0.48, "color": "#e9f0f8"}, {"offset": 0.6, "color": "#bcdaee"}, {"offset": 0.72, "color": "#72bde1"}, {"offset": 0.86, "color": "#5db3d9"}, {"offset": 0.885, "color": "#a9d3e3"}, {"offset": 0.9, "color": "#f6edca"}, {"offset": 0.935, "color": "#f0dba4"}, {"offset": 0.955, "color": "#dba449"}, {"offset": 0.985, "color": "#e0aa55"}, {"offset": 1, "color": "#f2ddb0"}]}}, "encoding": {"x": {"field": "a", "type": "quantitative"}, "x2": {"field": "b"}}},
                {"data": {"name": "ticks"}, "mark": {"type": "rule", "color": "black", "strokeWidth": 1}, "encoding": {}}
              ]
            }
          ]
        },
        {
          "title": {"text": "B", "anchor": "start", "frame": "bounds", "fontSize": 28, "fontWeight": "normal", "offset": -8, "dx": 0},
          "spacing": 0,
          "vconcat": [
            {
              "width": 218, "height": 184,
              "title": {"text": "Kinesins", "fontSize": 13, "fontWeight": "bold", "offset": 8},
              "data": {"name": "B"},
              "encoding": {
                "x": {"field": "t", "type": "quantitative", "scale": {"domain": [10, 68.5], "nice": false, "zero": false}, "axis": null},
                "y": {"field": "v", "type": "quantitative", "scale": {"domain": [-3.5, 104.3], "nice": false, "zero": false}, "axis": {"values": [0, 20, 40, 60, 80, 100], "title": null}},
                "color": {"field": "g", "type": "nominal", "title": null, "scale": {"domain": ["Kinesin 1", "Kinesin 2", "Kinesin 3", "Kinesin 4", "Kinesin 5", "Kinesin 6", "Kinesin 7", "Kinesin 8", "Kinesin 9", "Kinesin 10", "Kinesin 11"], "range": ["#fccba3", "#f8b27c", "#f29955", "#e47f2f", "#cd5d1d", "#a64816", "#793110", "#f3a890", "#eb8472", "#db5245", "#b5212d"]}, "legend": {"legendX": 10, "legendY": 3, "symbolType": "M-1.8,0H-0.5M0.5,0H1.8M-0.5,0A0.5,0.5 0 1 0 0.5,0A0.5,0.5 0 1 0 -0.5,0Z", "symbolSize": 110}}
              },
              "layer": [
                {"transform": [{"filter": "datum.r==1"}], "mark": {"type": "line", "strokeWidth": 1.5}},
                {"transform": [{"filter": "datum.r==2"}], "mark": {"type": "line", "strokeWidth": 1.3, "strokeDash": [5, 2, 1.5, 2]}},
                {"transform": [{"filter": "datum.r==2"}], "mark": {"type": "circle", "size": 11, "opacity": 1}},
                {"transform": [{"filter": "datum.r==1"}], "mark": {"type": "point", "filled": false, "fill": "white", "fillOpacity": 0.55, "size": 24, "strokeWidth": 1.2, "opacity": 1}}
              ]
            },
            {
              "width": 218, "height": 10,
              "view": {"stroke": null},
              "encoding": {"x": {"field": "t", "type": "quantitative", "scale": {"domain": [10, 68.5], "nice": false, "zero": false}, "axis": {"orient": "bottom", "values": [12, 18, 24, 30, 36, 42, 48, 54, 60, 66], "ticks": false, "labelPadding": -3, "title": "Time (h)", "titlePadding": 1}}},
              "layer": [
                {"data": {"name": "band"}, "mark": {"type": "rect", "color": {"gradient": "linear", "x1": 0, "y1": 0, "x2": 1, "y2": 0, "stops": [{"offset": 0, "color": "#d3e2f1"}, {"offset": 0.3, "color": "#dfe9f5"}, {"offset": 0.48, "color": "#e9f0f8"}, {"offset": 0.6, "color": "#bcdaee"}, {"offset": 0.72, "color": "#72bde1"}, {"offset": 0.86, "color": "#5db3d9"}, {"offset": 0.885, "color": "#a9d3e3"}, {"offset": 0.9, "color": "#f6edca"}, {"offset": 0.935, "color": "#f0dba4"}, {"offset": 0.955, "color": "#dba449"}, {"offset": 0.985, "color": "#e0aa55"}, {"offset": 1, "color": "#f2ddb0"}]}}, "encoding": {"x": {"field": "a", "type": "quantitative"}, "x2": {"field": "b"}}},
                {"data": {"name": "ticks"}, "mark": {"type": "rule", "color": "black", "strokeWidth": 1}, "encoding": {}}
              ]
            }
          ]
        }
      ]
    },
    {
      "spacing": 17,
      "resolve": {"scale": {"color": "independent", "stroke": "independent", "fill": "independent"}, "legend": {"color": "independent", "stroke": "independent", "fill": "independent"}},
      "hconcat": [
        {
          "title": {"text": "C", "anchor": "start", "frame": "bounds", "fontSize": 28, "fontWeight": "normal", "offset": -8, "dx": 4},
          "spacing": 0,
          "vconcat": [
            {
              "width": 217, "height": 182,
              "title": {"text": "Actin nucleators", "fontSize": 13, "fontWeight": "bold", "offset": 2},
              "encoding": {"x": {"field": "t", "type": "quantitative", "scale": {"domain": [10, 68.5], "nice": false, "zero": false}, "axis": null}},
              "layer": [
                {"data": {"name": "Cl"}, "transform": [{"filter": "datum.r==1"}], "mark": {"type": "line", "strokeWidth": 1.5},
                 "encoding": {"y": {"field": "v", "type": "quantitative", "scale": {"domain": [-1.76, 51.2], "nice": false, "zero": false}, "axis": {"values": [0, 10, 20, 30, 40, 50], "title": "mRNA abundance (tpm)", "minExtent": 30, "maxExtent": 30, "titlePadding": 2}},
                  "stroke": {"field": "g", "type": "nominal", "title": null, "scale": {"domain": ["Formin1", "Formin2", "Formin3", "Formin4", "Formin5", "Formin6"], "range": ["#dde7f4", "#c8d9ee", "#b2cce6", "#7da6d3", "#3e6eb5", "#2ca6ca"]}, "legend": {"legendX": 12, "legendY": -2, "symbolType": "M-1.8,0H-0.5M0.5,0H1.8M-0.5,0A0.5,0.5 0 1 0 0.5,0A0.5,0.5 0 1 0 -0.5,0Z", "symbolSize": 110}}}},
                {"data": {"name": "Cl"}, "transform": [{"filter": "datum.r==2"}], "mark": {"type": "line", "strokeWidth": 1.3, "strokeDash": [5, 2, 1.5, 2]},
                 "encoding": {"y": {"field": "v", "type": "quantitative", "scale": {"domain": [-1.76, 51.2], "nice": false, "zero": false}, "axis": null},
                  "stroke": {"field": "g", "type": "nominal", "title": null}}},
                {"data": {"name": "Cl"}, "transform": [{"filter": "datum.r==2"}], "mark": {"type": "circle", "size": 11, "opacity": 1},
                 "encoding": {"y": {"field": "v", "type": "quantitative", "scale": {"domain": [-1.76, 51.2], "nice": false, "zero": false}, "axis": null},
                  "fill": {"field": "g", "type": "nominal", "scale": {"domain": ["Formin1", "Formin2", "Formin3", "Formin4", "Formin5", "Formin6"], "range": ["#dde7f4", "#c8d9ee", "#b2cce6", "#7da6d3", "#3e6eb5", "#2ca6ca"]}, "legend": null}}},
                {"data": {"name": "Cl"}, "transform": [{"filter": "datum.r==1"}], "mark": {"type": "point", "filled": false, "fill": "white", "fillOpacity": 0.55, "size": 24, "strokeWidth": 1.2, "opacity": 1},
                 "encoding": {"y": {"field": "v", "type": "quantitative", "scale": {"domain": [-1.76, 51.2], "nice": false, "zero": false}, "axis": null},
                  "stroke": {"field": "g", "type": "nominal", "title": null}}},
                {"data": {"name": "Cr"}, "transform": [{"filter": "datum.r==1"}], "mark": {"type": "line", "strokeWidth": 1.5},
                 "encoding": {"y": {"field": "v", "type": "quantitative", "scale": {"domain": [-10.56, 307.2], "nice": false, "zero": false}, "axis": {"orient": "right", "values": [0, 60, 120, 180, 240, 300], "title": "*", "titleAngle": 0, "titleX": 3, "titleY": 3, "titleAlign": "left", "titleBaseline": "alphabetic"}},
                  "color": {"field": "g", "type": "nominal", "title": null, "scale": {"domain": ["Arp2*", "Arp3*", "Arp4*"], "range": ["#f8d5ae", "#f0a967", "#d0601f"]}, "legend": {"legendX": 80, "legendY": -2, "symbolType": "M-1.8,0H-0.5M0.5,0H1.8M-0.5,0A0.5,0.5 0 1 0 0.5,0A0.5,0.5 0 1 0 -0.5,0Z", "symbolSize": 110}}}},
                {"data": {"name": "Cr"}, "transform": [{"filter": "datum.r==2"}], "mark": {"type": "line", "strokeWidth": 1.3, "strokeDash": [5, 2, 1.5, 2]},
                 "encoding": {"y": {"field": "v", "type": "quantitative", "scale": {"domain": [-10.56, 307.2], "nice": false, "zero": false}, "axis": null},
                  "color": {"field": "g", "type": "nominal", "title": null}}},
                {"data": {"name": "Cr"}, "transform": [{"filter": "datum.r==2"}], "mark": {"type": "circle", "size": 11, "opacity": 1},
                 "encoding": {"y": {"field": "v", "type": "quantitative", "scale": {"domain": [-10.56, 307.2], "nice": false, "zero": false}, "axis": null},
                  "color": {"field": "g", "type": "nominal", "title": null}}},
                {"data": {"name": "Cr"}, "transform": [{"filter": "datum.r==1"}], "mark": {"type": "point", "filled": false, "fill": "white", "fillOpacity": 0.55, "size": 24, "strokeWidth": 1.2, "opacity": 1},
                 "encoding": {"y": {"field": "v", "type": "quantitative", "scale": {"domain": [-10.56, 307.2], "nice": false, "zero": false}, "axis": null},
                  "color": {"field": "g", "type": "nominal", "title": null}}}
              ],
              "resolve": {"scale": {"y": "independent"}}
            },
            {
              "width": 217, "height": 10,
              "view": {"stroke": null},
              "encoding": {"x": {"field": "t", "type": "quantitative", "scale": {"domain": [10, 68.5], "nice": false, "zero": false}, "axis": {"orient": "bottom", "values": [12, 18, 24, 30, 36, 42, 48, 54, 60, 66], "ticks": false, "labelPadding": -3, "title": "Time (h)", "titlePadding": 1}}},
              "layer": [
                {"data": {"name": "band"}, "mark": {"type": "rect", "color": {"gradient": "linear", "x1": 0, "y1": 0, "x2": 1, "y2": 0, "stops": [{"offset": 0, "color": "#d3e2f1"}, {"offset": 0.3, "color": "#dfe9f5"}, {"offset": 0.48, "color": "#e9f0f8"}, {"offset": 0.6, "color": "#bcdaee"}, {"offset": 0.72, "color": "#72bde1"}, {"offset": 0.86, "color": "#5db3d9"}, {"offset": 0.885, "color": "#a9d3e3"}, {"offset": 0.9, "color": "#f6edca"}, {"offset": 0.935, "color": "#f0dba4"}, {"offset": 0.955, "color": "#dba449"}, {"offset": 0.985, "color": "#e0aa55"}, {"offset": 1, "color": "#f2ddb0"}]}}, "encoding": {"x": {"field": "a", "type": "quantitative"}, "x2": {"field": "b"}}},
                {"data": {"name": "ticks"}, "mark": {"type": "rule", "color": "black", "strokeWidth": 1}, "encoding": {}}
              ]
            }
          ]
        },
        {
          "title": {"text": "D", "anchor": "start", "frame": "bounds", "fontSize": 28, "fontWeight": "normal", "offset": -8, "dx": -2},
          "spacing": 0,
          "vconcat": [
            {
              "width": 218, "height": 182,
              "title": {"text": "Actin-binding proteins", "fontSize": 13, "fontWeight": "bold", "offset": 2},
              "encoding": {
                "x": {"field": "t", "type": "quantitative", "scale": {"domain": [10, 68.5], "nice": false, "zero": false}, "axis": null},
                "color": {"field": "g", "type": "nominal", "title": null, "scale": {"domain": ["Septin1", "Septin2", "Septin3", "Septin4", "Myosin II", "Myosin V", "Profilin / Chickadee *", "Cofilin / Twinstar *"], "range": ["#93bbe0", "#6c9fd3", "#4677bf", "#1d3c8f", "#f4b27c", "#d9652b", "#4aa84e", "#d0343a"]}, "legend": {"legendX": 1, "legendY": 3, "symbolType": "M-1.8,0H-0.5M0.5,0H1.8M-0.5,0A0.5,0.5 0 1 0 0.5,0A0.5,0.5 0 1 0 -0.5,0Z", "symbolSize": 110}}
              },
              "layer": [
                {"data": {"name": "Dl"}, "transform": [{"filter": "datum.r==1"}], "mark": {"type": "line", "strokeWidth": 1.5},
                 "encoding": {"y": {"field": "v", "type": "quantitative", "scale": {"domain": [-5.9, 155.9], "nice": false, "zero": false}, "axis": {"values": [0, 50, 100, 150], "title": null}}}},
                {"data": {"name": "Dl"}, "transform": [{"filter": "datum.r==2"}], "mark": {"type": "line", "strokeWidth": 1.3, "strokeDash": [5, 2, 1.5, 2]},
                 "encoding": {"y": {"field": "v", "type": "quantitative", "scale": {"domain": [-5.9, 155.9], "nice": false, "zero": false}, "axis": null}}},
                {"data": {"name": "Dl"}, "transform": [{"filter": "datum.r==2"}], "mark": {"type": "circle", "size": 11, "opacity": 1},
                 "encoding": {"y": {"field": "v", "type": "quantitative", "scale": {"domain": [-5.9, 155.9], "nice": false, "zero": false}, "axis": null}}},
                {"data": {"name": "Dl"}, "transform": [{"filter": "datum.r==1"}], "mark": {"type": "point", "filled": false, "fill": "white", "fillOpacity": 0.55, "size": 24, "strokeWidth": 1.2, "opacity": 1},
                 "encoding": {"y": {"field": "v", "type": "quantitative", "scale": {"domain": [-5.9, 155.9], "nice": false, "zero": false}, "axis": null}}},
                {"data": {"name": "Dr"}, "transform": [{"filter": "datum.r==1"}], "mark": {"type": "line", "strokeWidth": 1.5},
                 "encoding": {"y": {"field": "v", "type": "quantitative", "scale": {"domain": [-145, 3835], "nice": false, "zero": false}, "axis": {"orient": "right", "values": [0, 1000, 2000, 3000], "format": "d", "title": "*", "titleAngle": 0, "titleX": 2, "titleY": 3, "titleAlign": "left", "titleBaseline": "alphabetic"}}}},
                {"data": {"name": "Dr"}, "transform": [{"filter": "datum.r==2"}], "mark": {"type": "line", "strokeWidth": 1.3, "strokeDash": [5, 2, 1.5, 2]},
                 "encoding": {"y": {"field": "v", "type": "quantitative", "scale": {"domain": [-145, 3835], "nice": false, "zero": false}, "axis": null}}},
                {"data": {"name": "Dr"}, "transform": [{"filter": "datum.r==2"}], "mark": {"type": "circle", "size": 11, "opacity": 1},
                 "encoding": {"y": {"field": "v", "type": "quantitative", "scale": {"domain": [-145, 3835], "nice": false, "zero": false}, "axis": null}}},
                {"data": {"name": "Dr"}, "transform": [{"filter": "datum.r==1"}], "mark": {"type": "point", "filled": false, "fill": "white", "fillOpacity": 0.55, "size": 24, "strokeWidth": 1.2, "opacity": 1},
                 "encoding": {"y": {"field": "v", "type": "quantitative", "scale": {"domain": [-145, 3835], "nice": false, "zero": false}, "axis": null}}}
              ],
              "resolve": {"scale": {"y": "independent"}}
            },
            {
              "width": 218, "height": 10,
              "view": {"stroke": null},
              "encoding": {"x": {"field": "t", "type": "quantitative", "scale": {"domain": [10, 68.5], "nice": false, "zero": false}, "axis": {"orient": "bottom", "values": [12, 18, 24, 30, 36, 42, 48, 54, 60, 66], "ticks": false, "labelPadding": -3, "title": "Time (h)", "titlePadding": 1}}},
              "layer": [
                {"data": {"name": "band"}, "mark": {"type": "rect", "color": {"gradient": "linear", "x1": 0, "y1": 0, "x2": 1, "y2": 0, "stops": [{"offset": 0, "color": "#d3e2f1"}, {"offset": 0.3, "color": "#dfe9f5"}, {"offset": 0.48, "color": "#e9f0f8"}, {"offset": 0.6, "color": "#bcdaee"}, {"offset": 0.72, "color": "#72bde1"}, {"offset": 0.86, "color": "#5db3d9"}, {"offset": 0.885, "color": "#a9d3e3"}, {"offset": 0.9, "color": "#f6edca"}, {"offset": 0.935, "color": "#f0dba4"}, {"offset": 0.955, "color": "#dba449"}, {"offset": 0.985, "color": "#e0aa55"}, {"offset": 1, "color": "#f2ddb0"}]}}, "encoding": {"x": {"field": "a", "type": "quantitative"}, "x2": {"field": "b"}}},
                {"data": {"name": "ticks"}, "mark": {"type": "rule", "color": "black", "strokeWidth": 1}, "encoding": {}}
              ]
            }
          ]
        }
      ]
    },
    {
      "spacing": 9,
      "resolve": {"scale": {"color": "independent", "stroke": "independent", "fill": "independent"}, "legend": {"color": "independent", "stroke": "independent", "fill": "independent"}},
      "hconcat": [
        {
          "title": {"text": "E", "anchor": "start", "frame": "bounds", "fontSize": 28, "fontWeight": "normal", "offset": -10, "dx": 4},
          "spacing": 0,
          "vconcat": [
            {
              "width": 216, "height": 183,
              "title": {"text": "Rho GTPases", "fontSize": 13, "fontWeight": "bold", "offset": 0},
              "encoding": {
                "x": {"field": "t", "type": "quantitative", "scale": {"domain": [10, 68.5], "nice": false, "zero": false}, "axis": null},
                "color": {"field": "g", "type": "nominal", "title": null, "scale": {"domain": ["Rho1", "Rho2", "Rho3 *", "Rho4"], "range": ["#c7d8ec", "#8aadd7", "#39acd0", "#1c3a8c"]}, "legend": {"legendX": 5, "legendY": 4, "symbolType": "M-1.8,0H-0.5M0.5,0H1.8M-0.5,0A0.5,0.5 0 1 0 0.5,0A0.5,0.5 0 1 0 -0.5,0Z", "symbolSize": 110}}
              },
              "layer": [
                {"data": {"name": "El"}, "transform": [{"filter": "datum.r==1"}], "mark": {"type": "line", "strokeWidth": 1.5},
                 "encoding": {"y": {"field": "v", "type": "quantitative", "scale": {"domain": [-11.8, 310.6], "nice": false, "zero": false}, "axis": {"values": [0, 50, 100, 150, 200, 250, 300], "title": "mRNA abundance (tpm)", "minExtent": 30, "maxExtent": 30, "titlePadding": 2}}}},
                {"data": {"name": "El"}, "transform": [{"filter": "datum.r==2"}], "mark": {"type": "line", "strokeWidth": 1.3, "strokeDash": [5, 2, 1.5, 2]},
                 "encoding": {"y": {"field": "v", "type": "quantitative", "scale": {"domain": [-11.8, 310.6], "nice": false, "zero": false}, "axis": null}}},
                {"data": {"name": "El"}, "transform": [{"filter": "datum.r==2"}], "mark": {"type": "circle", "size": 11, "opacity": 1},
                 "encoding": {"y": {"field": "v", "type": "quantitative", "scale": {"domain": [-11.8, 310.6], "nice": false, "zero": false}, "axis": null}}},
                {"data": {"name": "El"}, "transform": [{"filter": "datum.r==1"}], "mark": {"type": "point", "filled": false, "fill": "white", "fillOpacity": 0.55, "size": 24, "strokeWidth": 1.2, "opacity": 1},
                 "encoding": {"y": {"field": "v", "type": "quantitative", "scale": {"domain": [-11.8, 310.6], "nice": false, "zero": false}, "axis": null}}},
                {"data": {"name": "Er"}, "transform": [{"filter": "datum.r==1"}], "mark": {"type": "line", "strokeWidth": 1.5},
                 "encoding": {"y": {"field": "v", "type": "quantitative", "scale": {"domain": [-47.2, 1242.4], "nice": false, "zero": false}, "axis": {"orient": "right", "values": [0, 200, 400, 600, 800, 1000, 1200], "format": "d", "title": "*", "titleAngle": 0, "titleX": 3, "titleY": 3, "titleAlign": "left", "titleBaseline": "alphabetic"}}}},
                {"data": {"name": "Er"}, "transform": [{"filter": "datum.r==2"}], "mark": {"type": "line", "strokeWidth": 1.3, "strokeDash": [5, 2, 1.5, 2]},
                 "encoding": {"y": {"field": "v", "type": "quantitative", "scale": {"domain": [-47.2, 1242.4], "nice": false, "zero": false}, "axis": null}}},
                {"data": {"name": "Er"}, "transform": [{"filter": "datum.r==2"}], "mark": {"type": "circle", "size": 11, "opacity": 1},
                 "encoding": {"y": {"field": "v", "type": "quantitative", "scale": {"domain": [-47.2, 1242.4], "nice": false, "zero": false}, "axis": null}}},
                {"data": {"name": "Er"}, "transform": [{"filter": "datum.r==1"}], "mark": {"type": "point", "filled": false, "fill": "white", "fillOpacity": 0.55, "size": 24, "strokeWidth": 1.2, "opacity": 1},
                 "encoding": {"y": {"field": "v", "type": "quantitative", "scale": {"domain": [-47.2, 1242.4], "nice": false, "zero": false}, "axis": null}}}
              ],
              "resolve": {"scale": {"y": "independent"}}
            },
            {
              "width": 216, "height": 10,
              "view": {"stroke": null},
              "encoding": {"x": {"field": "t", "type": "quantitative", "scale": {"domain": [10, 68.5], "nice": false, "zero": false}, "axis": {"orient": "bottom", "values": [12, 18, 24, 30, 36, 42, 48, 54, 60, 66], "ticks": false, "labelPadding": -3, "title": "Time (h)", "titlePadding": 1}}},
              "layer": [
                {"data": {"name": "band"}, "mark": {"type": "rect", "color": {"gradient": "linear", "x1": 0, "y1": 0, "x2": 1, "y2": 0, "stops": [{"offset": 0, "color": "#d3e2f1"}, {"offset": 0.3, "color": "#dfe9f5"}, {"offset": 0.48, "color": "#e9f0f8"}, {"offset": 0.6, "color": "#bcdaee"}, {"offset": 0.72, "color": "#72bde1"}, {"offset": 0.86, "color": "#5db3d9"}, {"offset": 0.885, "color": "#a9d3e3"}, {"offset": 0.9, "color": "#f6edca"}, {"offset": 0.935, "color": "#f0dba4"}, {"offset": 0.955, "color": "#dba449"}, {"offset": 0.985, "color": "#e0aa55"}, {"offset": 1, "color": "#f2ddb0"}]}}, "encoding": {"x": {"field": "a", "type": "quantitative"}, "x2": {"field": "b"}}},
                {"data": {"name": "ticks"}, "mark": {"type": "rule", "color": "black", "strokeWidth": 1}, "encoding": {}}
              ]
            }
          ]
        },
        {
          "title": {"text": "F", "anchor": "start", "frame": "bounds", "fontSize": 28, "fontWeight": "normal", "offset": -10, "dx": 0},
          "spacing": 0,
          "vconcat": [
            {
              "width": 218, "height": 183,
              "title": {"text": "Cell adhesion components", "fontSize": 13, "fontWeight": "bold", "offset": 0},
              "encoding": {
                "x": {"field": "t", "type": "quantitative", "scale": {"domain": [10, 68.5], "nice": false, "zero": false}, "axis": null},
                "color": {"field": "g", "type": "nominal", "title": null, "scale": {"domain": ["Integrin α", "Integrin β", "Pinch", "Parvin", "Paxilin", "Talin", "α-actinin", "Vinculin/α-catenin*", "Aardvark1", "Aardvark2*", "Aardvark3"], "range": ["#cf3f5b", "#e5633b", "#f0a155", "#f7cf6e", "#e4eb85", "#a9d993", "#4a7fc4", "#5cb88c", "#dadada", "#afafaf", "#5d5d5d"]}, "legend": {"legendX": 3, "legendY": 4, "symbolType": "M-1.8,0H-0.5M0.5,0H1.8M-0.5,0A0.5,0.5 0 1 0 0.5,0A0.5,0.5 0 1 0 -0.5,0Z", "symbolSize": 110}}
              },
              "layer": [
                {"data": {"name": "Fl"}, "transform": [{"filter": "datum.r==1"}], "mark": {"type": "line", "strokeWidth": 1.5},
                 "encoding": {"y": {"field": "v", "type": "quantitative", "scale": {"domain": [-4.2, 124.7], "nice": false, "zero": false}, "axis": {"values": [0, 20, 40, 60, 80, 100, 120], "title": null}}}},
                {"data": {"name": "Fl"}, "transform": [{"filter": "datum.r==2"}], "mark": {"type": "line", "strokeWidth": 1.3, "strokeDash": [5, 2, 1.5, 2]},
                 "encoding": {"y": {"field": "v", "type": "quantitative", "scale": {"domain": [-4.2, 124.7], "nice": false, "zero": false}, "axis": null}}},
                {"data": {"name": "Fl"}, "transform": [{"filter": "datum.r==2"}], "mark": {"type": "circle", "size": 11, "opacity": 1},
                 "encoding": {"y": {"field": "v", "type": "quantitative", "scale": {"domain": [-4.2, 124.7], "nice": false, "zero": false}, "axis": null}}},
                {"data": {"name": "Fl"}, "transform": [{"filter": "datum.r==1"}], "mark": {"type": "point", "filled": false, "fill": "white", "fillOpacity": 0.55, "size": 24, "strokeWidth": 1.2, "opacity": 1},
                 "encoding": {"y": {"field": "v", "type": "quantitative", "scale": {"domain": [-4.2, 124.7], "nice": false, "zero": false}, "axis": null}}},
                {"data": {"name": "Fr"}, "transform": [{"filter": "datum.r==1"}], "mark": {"type": "line", "strokeWidth": 1.5},
                 "encoding": {"y": {"field": "v", "type": "quantitative", "scale": {"domain": [-21, 623.5], "nice": false, "zero": false}, "axis": {"orient": "right", "values": [0, 100, 200, 300, 400, 500, 600], "title": "*", "titleAngle": 0, "titleX": 2, "titleY": 3, "titleAlign": "left", "titleBaseline": "alphabetic"}}}},
                {"data": {"name": "Fr"}, "transform": [{"filter": "datum.r==2"}], "mark": {"type": "line", "strokeWidth": 1.3, "strokeDash": [5, 2, 1.5, 2]},
                 "encoding": {"y": {"field": "v", "type": "quantitative", "scale": {"domain": [-21, 623.5], "nice": false, "zero": false}, "axis": null}}},
                {"data": {"name": "Fr"}, "transform": [{"filter": "datum.r==2"}], "mark": {"type": "circle", "size": 11, "opacity": 1},
                 "encoding": {"y": {"field": "v", "type": "quantitative", "scale": {"domain": [-21, 623.5], "nice": false, "zero": false}, "axis": null}}},
                {"data": {"name": "Fr"}, "transform": [{"filter": "datum.r==1"}], "mark": {"type": "point", "filled": false, "fill": "white", "fillOpacity": 0.55, "size": 24, "strokeWidth": 1.2, "opacity": 1},
                 "encoding": {"y": {"field": "v", "type": "quantitative", "scale": {"domain": [-21, 623.5], "nice": false, "zero": false}, "axis": null}}}
              ],
              "resolve": {"scale": {"y": "independent"}}
            },
            {
              "width": 218, "height": 10,
              "view": {"stroke": null},
              "encoding": {"x": {"field": "t", "type": "quantitative", "scale": {"domain": [10, 68.5], "nice": false, "zero": false}, "axis": {"orient": "bottom", "values": [12, 18, 24, 30, 36, 42, 48, 54, 60, 66], "ticks": false, "labelPadding": -3, "title": "Time (h)", "titlePadding": 1}}},
              "layer": [
                {"data": {"name": "band"}, "mark": {"type": "rect", "color": {"gradient": "linear", "x1": 0, "y1": 0, "x2": 1, "y2": 0, "stops": [{"offset": 0, "color": "#d3e2f1"}, {"offset": 0.3, "color": "#dfe9f5"}, {"offset": 0.48, "color": "#e9f0f8"}, {"offset": 0.6, "color": "#bcdaee"}, {"offset": 0.72, "color": "#72bde1"}, {"offset": 0.86, "color": "#5db3d9"}, {"offset": 0.885, "color": "#a9d3e3"}, {"offset": 0.9, "color": "#f6edca"}, {"offset": 0.935, "color": "#f0dba4"}, {"offset": 0.955, "color": "#dba449"}, {"offset": 0.985, "color": "#e0aa55"}, {"offset": 1, "color": "#f2ddb0"}]}}, "encoding": {"x": {"field": "a", "type": "quantitative"}, "x2": {"field": "b"}}},
                {"data": {"name": "ticks"}, "mark": {"type": "rule", "color": "black", "strokeWidth": 1}, "encoding": {}}
              ]
            }
          ]
        }
      ]
    },
    {
      "spacing": 0,
      "resolve": {"scale": {"color": "independent", "strokeDash": "independent"}},
      "hconcat": [
        {
          "width": 150, "height": 48,
          "view": {"stroke": null},
          "layer": [
            {
              "data": {"name": "stages"},
              "mark": {"type": "square", "size": 64, "opacity": 1},
              "encoding": {
                "x": {"datum": 3, "type": "quantitative", "scale": {"domain": [0, 150], "nice": false, "zero": false}, "axis": null},
                "y": {"field": "s", "type": "nominal", "scale": {"type": "point", "domain": ["Growth", "Pre-flip", "Post-flip", "Cell release"], "padding": 0.5}, "axis": null},
                "color": {"field": "s", "type": "nominal", "scale": {"domain": ["Growth", "Pre-flip", "Post-flip", "Cell release"], "range": ["#c6dbef", "#5aaed6", "#f1dba6", "#d4901e"]}, "legend": null}
              }
            },
            {
              "data": {"name": "stages"},
              "mark": {"type": "text", "align": "left", "baseline": "middle", "fontSize": 11.5, "color": "black"},
              "encoding": {"x": {"datum": 10, "type": "quantitative"}, "y": {"field": "s", "type": "nominal"}, "text": {"field": "s"}}
            },
            {
              "data": {"name": "bracket"},
              "mark": {"type": "rule", "yOffset": -6, "y2Offset": 6, "color": "black", "strokeWidth": 1},
              "encoding": {"x": {"datum": 55, "type": "quantitative"}, "y": {"datum": "Pre-flip", "type": "nominal"}, "y2": {"datum": "Post-flip"}}
            },
            {
              "data": {"name": "bracket"},
              "mark": {"type": "rule", "yOffset": -6, "color": "black", "strokeWidth": 1},
              "encoding": {"x": {"datum": 51, "type": "quantitative"}, "x2": {"datum": 55}, "y": {"datum": "Pre-flip", "type": "nominal"}}
            },
            {
              "data": {"name": "bracket"},
              "mark": {"type": "rule", "yOffset": 6, "color": "black", "strokeWidth": 1},
              "encoding": {"x": {"datum": 51, "type": "quantitative"}, "x2": {"datum": 55}, "y": {"datum": "Post-flip", "type": "nominal"}}
            },
            {
              "data": {"name": "bracket"},
              "mark": {"type": "text", "align": "left", "baseline": "middle", "fontSize": 11.5, "color": "black", "yOffset": 6},
              "encoding": {"x": {"datum": 62, "type": "quantitative"}, "y": {"datum": "Pre-flip", "type": "nominal"}, "text": {"field": "label"}}
            }
          ]
        },
        {
          "width": 100, "height": 30,
          "view": {"stroke": null},
          "data": {"name": "reps"},
          "encoding": {"y": {"field": "rep", "type": "nominal", "scale": {"type": "point", "domain": ["Replicate 1", "Replicate 2"], "padding": 0.75}, "axis": null}},
          "layer": [
            {
              "mark": {"type": "rule", "color": "black", "strokeWidth": 1.5},
              "encoding": {
                "x": {"datum": 4, "type": "quantitative", "scale": {"domain": [0, 100], "nice": false, "zero": false}, "axis": null},
                "x2": {"datum": 24},
                "strokeDash": {"field": "rep", "type": "nominal", "scale": {"domain": ["Replicate 1", "Replicate 2"], "range": [[1, 0], [3, 2, 1, 2]]}, "legend": null}
              }
            },
            {
              "transform": [{"filter": "datum.rep=='Replicate 1'"}],
              "mark": {"type": "point", "shape": "circle", "size": 30, "filled": true, "fill": "white", "stroke": "black", "strokeWidth": 1.5, "opacity": 1},
              "encoding": {"x": {"datum": 14, "type": "quantitative"}}
            },
            {
              "transform": [{"filter": "datum.rep=='Replicate 2'"}],
              "mark": {"type": "circle", "size": 24, "color": "black", "opacity": 1},
              "encoding": {"x": {"datum": 14, "type": "quantitative"}}
            },
            {
              "mark": {"type": "text", "align": "left", "baseline": "middle", "fontSize": 11.5, "color": "black"},
              "encoding": {"x": {"datum": 29, "type": "quantitative"}, "text": {"field": "rep"}}
            }
          ]
        }
      ]
    }
  ]
}
